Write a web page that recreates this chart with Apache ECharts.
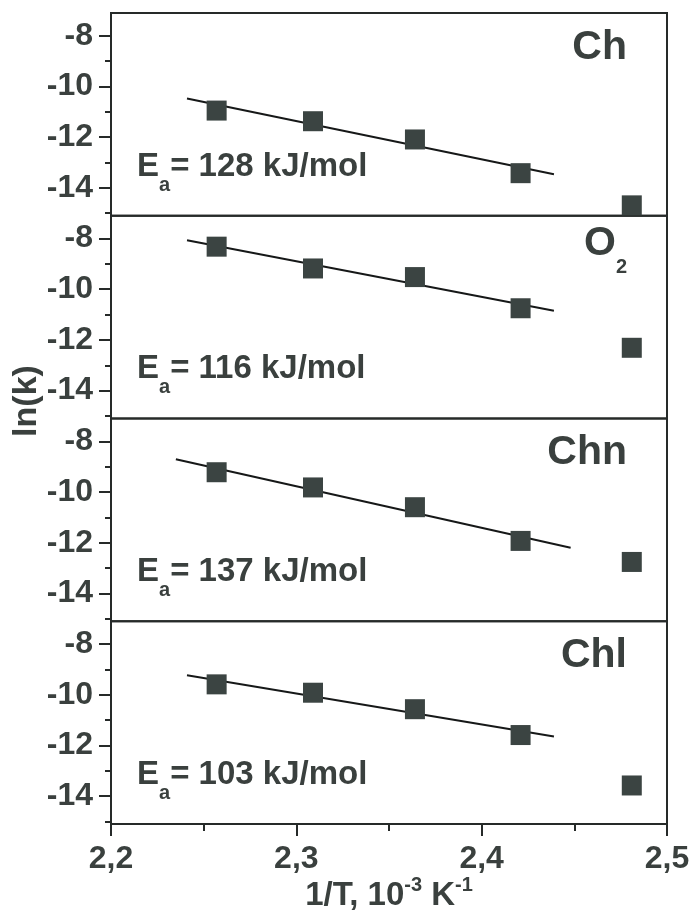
<!DOCTYPE html>
<html>
<head>
<meta charset="utf-8">
<script src="https://cdn.jsdelivr.net/npm/echarts@6/dist/echarts.min.js"></script>
<style>
  html, body { margin: 0; padding: 0; background: #ffffff; }
  #chart { width: 695px; height: 919px; }
</style>
</head>
<body>
<div id="chart"></div>
<script>
// Arrhenius plots: ln(k) versus 1/T (10^-3 K^-1) for four samples
const invT = [2.257, 2.309, 2.364, 2.421, 2.481];

const lnkCh  = [-10.95, -11.37, -12.09, -13.42, -14.69];
const lnkO2  = [-8.32, -9.18, -9.52, -10.75, -12.31];
const lnkChn = [-9.22, -9.82, -10.60, -11.93, -12.76];
const lnkChl = [-9.59, -9.92, -10.57, -11.59, -13.58];

// Linear fits (start and end of each fitted segment)
const fitXCh  = [2.241, 2.439];
const fitYCh  = [-10.47, -13.46];
const fitXO2  = [2.241, 2.439];
const fitYO2  = [-8.07, -10.85];
const fitXChn = [2.235, 2.448];
const fitYChn = [-8.71, -12.20];
const fitXChl = [2.241, 2.439];
const fitYChl = [-9.23, -11.65];

// Activation energies, kJ/mol
const activationEnergy = [128, 116, 137, 103];

// Axis ticks
const yMajorTicks = [-14, -12, -10, -8];
const yMinorTicks = [-15, -13, -11, -9];
const xTicks = [2.2, 2.3, 2.4, 2.5];

const panels = [
  { label: '{m|Ch}', y: lnkCh, fx: fitXCh, fy: fitYCh },
  { label: '{o|O}{s|2}', y: lnkO2, fx: fitXO2, fy: fitYO2 },
  { label: '{m|Chn}', y: lnkChn, fx: fitXChn, fy: fitYChn },
  { label: '{m|Chl}', y: lnkChl, fx: fitXChl, fy: fitYChl }
];

// Layout
const LEFT = 111, RIGHT = 28, TOP = 13, PANEL_H = 202.75;
const Y_MIN = -15.1, Y_MAX = -7.1;
const TEXT = '#3a403e';
const FRAME = '#262a29';
const MARK = '#3b4442';
const FONT = '"Liberation Sans", Arial, sans-serif';

const boldText = (size, extra) => Object.assign(
  { fontSize: size, fontWeight: 'bold', fontFamily: FONT, fill: TEXT, color: TEXT, verticalAlign: 'bottom' },
  extra || {}
);

const grids = [], xAxes = [], yAxes = [], series = [], graphics = [];

panels.forEach((p, i) => {
  const top = TOP + i * PANEL_H;
  grids.push({
    left: LEFT, right: RIGHT, top: top, height: PANEL_H,
    show: true, borderColor: FRAME, borderWidth: 2, backgroundColor: 'transparent'
  });

  const isBottom = i === panels.length - 1;
  xAxes.push({
    type: 'value', gridIndex: i, min: 2.2, max: 2.5, interval: 0.1,
    show: isBottom,
    axisLine: { show: true, lineStyle: { color: FRAME, width: 2 } },
    axisTick: { show: true, length: 12, lineStyle: { color: FRAME, width: 2 } },
    minorTick: { show: true, splitNumber: 2, length: 7, lineStyle: { color: FRAME, width: 2 } },
    splitLine: { show: false },
    axisLabel: {
      show: true, margin: 19, fontSize: 32, fontWeight: 'bold', fontFamily: FONT, color: TEXT,
      formatter: v => v.toFixed(1).replace('.', ',')
    },
    name: isBottom ? '{m|1/T, 10}{p|-3}{m| K}{p|-1}' : '',
    nameLocation: 'middle',
    nameGap: 51,
    nameTextStyle: {
      rich: {
        m: boldText(33),
        p: boldText(20, { padding: [0, 0, 17, 0] })
      }
    }
  });

  // major ticks with labels
  yAxes.push({
    type: 'value', gridIndex: i, min: Y_MIN, max: Y_MAX,
    axisLine: { show: true, lineStyle: { color: FRAME, width: 2 } },
    axisTick: { show: true, length: 12, customValues: yMajorTicks, lineStyle: { color: FRAME, width: 2 } },
    axisLabel: {
      show: true, margin: 18, customValues: yMajorTicks,
      fontSize: 32, fontWeight: 'bold', fontFamily: FONT, color: TEXT
    },
    splitLine: { show: false }
  });
  // minor ticks
  yAxes.push({
    type: 'value', gridIndex: i, min: Y_MIN, max: Y_MAX, position: 'left',
    axisLine: { show: false },
    axisTick: { show: true, length: 6, customValues: yMinorTicks, lineStyle: { color: FRAME, width: 2 } },
    axisLabel: { show: false },
    splitLine: { show: false }
  });

  series.push({
    type: 'line', xAxisIndex: i, yAxisIndex: 2 * i,
    data: p.fx.map((x, k) => [x, p.fy[k]]),
    showSymbol: false, symbol: 'none', silent: true,
    lineStyle: { color: '#161818', width: 2 }, z: 2
  });
  series.push({
    type: 'scatter', xAxisIndex: i, yAxisIndex: 2 * i,
    data: invT.map((x, k) => [x, p.y[k]]),
    symbol: 'rect', symbolSize: 20, silent: true,
    itemStyle: { color: MARK, opacity: 1 }, z: 3
  });

  // sample name
  graphics.push({
    type: 'text', x: 627, y: top + (i === 1 ? 62 : 55), z: 10,
    style: {
      text: p.label, align: 'right', verticalAlign: 'bottom',
      rich: {
        m: boldText(41),
        o: boldText(41, { padding: [0, 0, 14, 0] }),
        s: boldText(20)
      }
    }
  });

  // activation energy
  graphics.push({
    type: 'text', x: 137, y: top + 182, z: 10,
    style: {
      text: '{m|E}{s|a}{m|= ' + activationEnergy[i] + ' kJ/mol}',
      align: 'left', verticalAlign: 'bottom',
      rich: {
        m: boldText(33, { padding: [0, 0, 12, 0] }),
        s: boldText(20)
      }
    }
  });
});

graphics.push({
  type: 'text', x: 27, y: 401, rotation: Math.PI / 2, z: 10,
  style: {
    text: 'ln(k)', align: 'center', verticalAlign: 'middle',
    fontSize: 34, fontWeight: 'bold', fontFamily: FONT, fill: TEXT
  }
});

const chart = echarts.init(document.getElementById('chart'), null, { renderer: 'canvas' });
chart.setOption({
  animation: false,
  backgroundColor: '#ffffff',
  grid: grids,
  xAxis: xAxes,
  yAxis: yAxes,
  series: series,
  graphic: graphics
});
</script>
</body>
</html>
